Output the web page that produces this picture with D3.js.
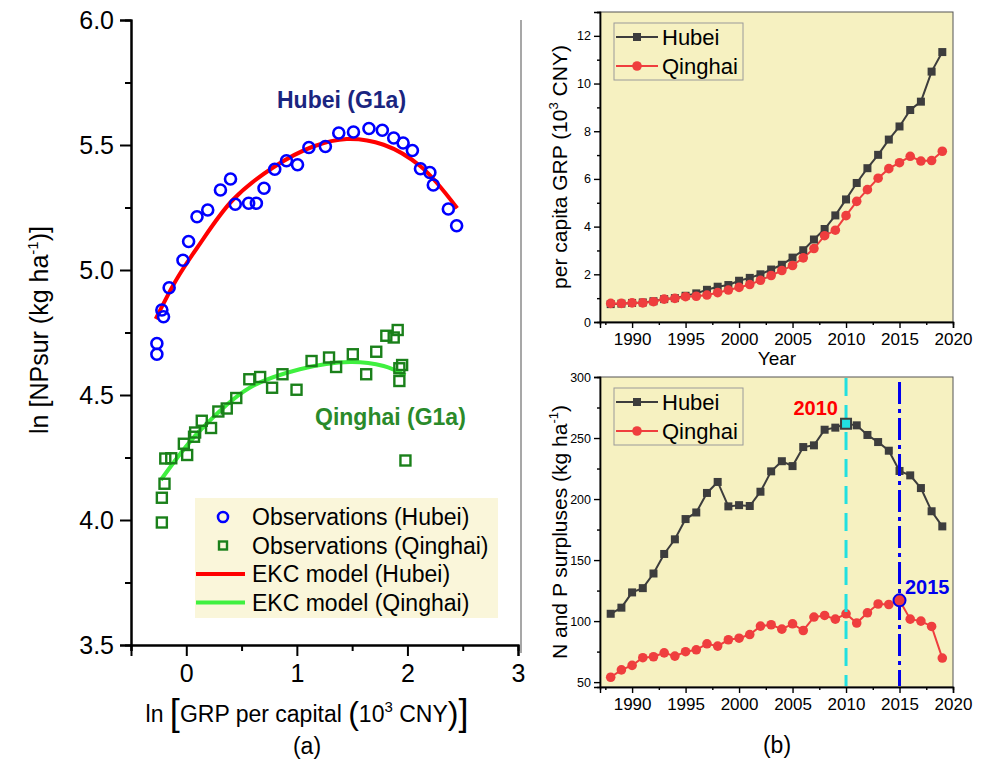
<!DOCTYPE html>
<html>
<head>
<meta charset="utf-8">
<script src="https://cdn.jsdelivr.net/npm/d3@7"></script>
<style>
  body { margin: 0; background: #fff; }
  svg { font-family: "Liberation Sans", Arial, sans-serif; }
</style>
</head>
<body>
<svg width="986" height="759"></svg>
<script>
// ---- data: panel (a), ln values ----
const obsHubeiX = [-0.266,-0.266,-0.221,-0.206,-0.155,-0.030,0.021,0.097,0.194,0.309,0.400,0.443,0.564,0.634,0.703,0.800,0.906,1.006,1.109,1.258,1.379,1.512,1.652,1.773,1.876,1.961,2.045,2.118,2.203,2.234,2.370,2.445]
const obsHubeiY = [4.706,4.663,4.840,4.813,4.929,5.039,5.114,5.213,5.240,5.320,5.364,5.263,5.267,5.267,5.327,5.403,5.437,5.421,5.490,5.494,5.548,5.552,5.566,5.559,5.528,5.508,5.478,5.405,5.390,5.340,5.244,5.177]
const obsQinghaiX = [-0.221,-0.221,-0.197,-0.190,-0.136,-0.022,0.008,0.070,0.080,0.140,0.224,0.290,0.366,0.452,0.570,0.668,0.776,0.870,0.997,1.133,1.291,1.355,1.506,1.627,1.718,1.809,1.876,1.912,1.952,1.927,1.927,1.982]
const obsQinghaiY = [3.990,4.089,4.145,4.246,4.247,4.305,4.260,4.333,4.350,4.397,4.368,4.434,4.446,4.488,4.563,4.572,4.529,4.583,4.521,4.636,4.650,4.612,4.663,4.583,4.673,4.737,4.730,4.760,4.620,4.607,4.556,4.238]
const ekcHubeiX = [-0.276,-0.094,0.1,0.42,0.785,1.148,1.452,1.785,2.118,2.45]
const ekcHubeiY = [4.804,4.958,5.09,5.28,5.41,5.494,5.524,5.501,5.415,5.247]
const ekcQinghaiX = [-0.23,0.118,0.573,1.027,1.482,1.785,1.982]
const ekcQinghaiY = [4.16,4.355,4.529,4.603,4.632,4.616,4.579]

// ---- data: panel (b) ----
const years = [1988,1989,1990,1991,1992,1993,1994,1995,1996,1997,1998,1999,2000,2001,2002,2003,2004,2005,2006,2007,2008,2009,2010,2011,2012,2013,2014,2015,2016,2017,2018,2019]
const grpHubei = [0.75,0.77,0.80,0.82,0.87,0.96,1.00,1.10,1.20,1.35,1.48,1.55,1.73,1.85,2.00,2.20,2.40,2.70,3.01,3.46,3.90,4.47,5.14,5.83,6.45,7.01,7.65,8.20,8.89,9.24,10.50,11.32]
const grpQinghai = [0.78,0.78,0.80,0.80,0.85,0.96,0.99,1.06,1.08,1.13,1.23,1.34,1.45,1.57,1.75,1.95,2.16,2.37,2.69,3.08,3.62,3.85,4.46,5.06,5.55,6.03,6.43,6.68,6.95,6.75,6.77,7.16]
const surHubei = [106,111,123.5,127,139,155,167,183.6,189,205,214,194,195,194.3,206,222.7,231,227,242.6,244,256.8,258.5,261.7,260.4,252.5,246.7,239.6,223,219.4,209,190,177.6]
const surQinghai = [54,60,63.7,70,70.8,74,71.3,74.9,76.5,81.4,79.5,84.7,86,89,95.9,97,93.4,97.8,92.3,103.3,104.6,101.6,106,98.4,106.8,114,113.6,117,101.6,100,95.6,69.7]
const markYears = [2010, 2015]

const svg = d3.select("svg")
svg.append("rect").attr("width", 986).attr("height", 759).attr("fill", "#fff")

const BG = "#f6f1c1"
const HUBEI = "#3d3d3d"
const QINGHAI = "#ef3e3e"

function styleAxis(sel, fs, sw) {
  sel.select(".domain").attr("stroke", "#000").attr("stroke-width", sw)
  sel.selectAll(".tick line").attr("stroke", "#000").attr("stroke-width", sw)
  sel.selectAll(".tick text").attr("font-size", fs).attr("fill", "#000")
    .attr("font-family", "Liberation Sans, Arial, sans-serif")
}

// ================= panel (a) =================
const xa = d3.scaleLinear().domain([-0.5, 3]).range([131, 518])
const ya = d3.scaleLinear().domain([3.5, 6.0]).range([645, 20])
const ga = svg.append("g")

// minor ticks
ga.append("g").attr("transform", "translate(0,645)")
  .call(d3.axisBottom(xa).tickValues([-0.5, 0.5, 1.5, 2.5]).tickSize(6).tickFormat(""))
  .call(s => styleAxis(s, 0, 2))
ga.append("g").attr("transform", "translate(131,0)")
  .call(d3.axisLeft(ya).tickValues([3.75, 4.25, 4.75, 5.25, 5.75]).tickSize(6).tickFormat(""))
  .call(s => styleAxis(s, 0, 2))
ga.append("g").attr("transform", "translate(0,645)")
  .call(d3.axisBottom(xa).tickValues([0, 1, 2, 3]).tickSize(11).tickPadding(8).tickFormat(d3.format("d")))
  .call(s => styleAxis(s, 25, 2))
ga.append("g").attr("transform", "translate(131,0)")
  .call(d3.axisLeft(ya).tickValues([3.5, 4, 4.5, 5, 5.5, 6]).tickSize(11).tickPadding(6).tickFormat(d3.format(".1f")))
  .call(s => styleAxis(s, 25, 2))

const lineA = d3.line().x(d => xa(d[0])).y(d => ya(d[1])).curve(d3.curveCatmullRom)
ga.append("path").datum(ekcHubeiX.map((x, i) => [x, ekcHubeiY[i]]))
  .attr("d", lineA).attr("fill", "none").attr("stroke", "#ff0000").attr("stroke-width", 4)
ga.append("path").datum(ekcQinghaiX.map((x, i) => [x, ekcQinghaiY[i]]))
  .attr("d", lineA).attr("fill", "none").attr("stroke", "#3ff03f").attr("stroke-width", 4)

ga.selectAll("circle.obs").data(obsHubeiX.map((x, i) => [x, obsHubeiY[i]])).join("circle")
  .attr("class", "obs").attr("cx", d => xa(d[0])).attr("cy", d => ya(d[1])).attr("r", 5.5)
  .attr("fill", "none").attr("stroke", "#0000ff").attr("stroke-width", 2.6)
ga.selectAll("rect.obs").data(obsQinghaiX.map((x, i) => [x, obsQinghaiY[i]])).join("rect")
  .attr("class", "obs").attr("x", d => xa(d[0]) - 5).attr("y", d => ya(d[1]) - 5)
  .attr("width", 10).attr("height", 10)
  .attr("fill", "none").attr("stroke", "#1a801a").attr("stroke-width", 2.4)

ga.append("text").text("Hubei (G1a)").attr("x", 277).attr("y", 108)
  .attr("font-size", 23).attr("font-weight", "bold").attr("fill", "#1a2580")
ga.append("text").text("Qinghai (G1a)").attr("x", 315).attr("y", 425)
  .attr("font-size", 23).attr("font-weight", "bold").attr("fill", "#2a8a2a")

// legend (a)
const lga = ga.append("g")
lga.append("rect").attr("x", 195).attr("y", 498).attr("width", 303).attr("height", 120).attr("fill", "#faf6da")
const legA = [
  {t: "Observations (Hubei)", k: "c"},
  {t: "Observations (Qinghai)", k: "s"},
  {t: "EKC model (Hubei)", k: "l", c: "#ff0000"},
  {t: "EKC model (Qinghai)", k: "l", c: "#3ff03f"}
]
legA.forEach((d, i) => {
  const yy = 517 + i * 28.5
  if (d.k === "c") lga.append("circle").attr("cx", 223).attr("cy", yy).attr("r", 5)
    .attr("fill", "none").attr("stroke", "#0000ff").attr("stroke-width", 2.6)
  if (d.k === "s") lga.append("rect").attr("x", 219).attr("y", yy - 4).attr("width", 8).attr("height", 8)
    .attr("fill", "none").attr("stroke", "#1a801a").attr("stroke-width", 2.4)
  if (d.k === "l") lga.append("line").attr("x1", 196).attr("x2", 245).attr("y1", yy).attr("y2", yy)
    .attr("stroke", d.c).attr("stroke-width", 4)
  lga.append("text").text(d.t).attr("x", 252).attr("y", yy + 8).attr("font-size", 23).attr("fill", "#000")
})

// axis titles (a)
const yt = ga.append("text").attr("transform", "translate(48,330) rotate(-90)")
  .attr("text-anchor", "middle").attr("font-size", 25)
yt.append("tspan").text("ln [NPsur (kg ha")
yt.append("tspan").text("-1").attr("font-size", 15).attr("dy", -10)
yt.append("tspan").text(")]").attr("dy", 10)

const xt = ga.append("text").attr("x", 307).attr("y", 722).attr("text-anchor", "middle").attr("font-size", 23)
xt.append("tspan").text("ln ")
xt.append("tspan").text("[").attr("font-size", 36).attr("dy", 3)
xt.append("tspan").text("GRP per capital ").attr("dy", -3)
xt.append("tspan").text("(").attr("font-size", 32).attr("dy", 2)
xt.append("tspan").text("10").attr("dy", -2)
xt.append("tspan").text("3").attr("font-size", 15).attr("dy", -10)
xt.append("tspan").text(" CNY").attr("dy", 10)
xt.append("tspan").text(")").attr("font-size", 32).attr("dy", 2)
xt.append("tspan").text("]").attr("font-size", 36).attr("dy", 1)
ga.append("text").text("(a)").attr("x", 307).attr("y", 754).attr("text-anchor", "middle").attr("font-size", 23)

// separator
svg.append("line").attr("x1", 521).attr("x2", 521).attr("y1", 20).attr("y2", 653)
  .attr("stroke", "#8a8a8a").attr("stroke-width", 1.5)

// ================= panel (b) =================
const xb = d3.scaleLinear().domain([1987, 2020]).range([600, 953])

function panel(y0, y1, yDomain, major, minor, hub, qin, label) {
  const y = d3.scaleLinear().domain(yDomain).range([y1, y0])
  const g = svg.append("g")
  g.append("rect").attr("x", 600).attr("y", y0).attr("width", 353).attr("height", y1 - y0)
    .attr("fill", BG).attr("stroke", "#555").attr("stroke-width", 1)
  g.append("g").attr("transform", `translate(0,${y1})`)
    .call(d3.axisBottom(xb).tickValues([1987.5, 1992.5, 1997.5, 2002.5, 2007.5, 2012.5, 2017.5]).tickSize(3).tickFormat(""))
    .call(s => styleAxis(s, 0, 1.4))
  g.append("g").attr("transform", `translate(0,${y1})`)
    .call(d3.axisBottom(xb).tickValues([1990, 1995, 2000, 2005, 2010, 2015, 2020]).tickSize(6).tickPadding(5).tickFormat(d3.format("d")))
    .call(s => styleAxis(s, 17, 1.4))
  g.append("g").attr("transform", "translate(600,0)")
    .call(d3.axisLeft(y).tickValues(minor).tickSize(3).tickFormat(""))
    .call(s => styleAxis(s, 0, 1.4))
  g.append("g").attr("transform", "translate(600,0)")
    .call(d3.axisLeft(y).tickValues(major).tickSize(6).tickPadding(3))
    .call(s => styleAxis(s, 12.5, 1.4))

  const line = d3.line().x((d, i) => xb(years[i])).y(d => y(d))
  g.append("path").datum(hub).attr("d", line).attr("fill", "none").attr("stroke", HUBEI).attr("stroke-width", 2)
  g.append("path").datum(qin).attr("d", line).attr("fill", "none").attr("stroke", QINGHAI).attr("stroke-width", 2)
  g.selectAll("rect.h").data(hub).join("rect").attr("class", "h")
    .attr("x", (d, i) => xb(years[i]) - 4).attr("y", d => y(d) - 4).attr("width", 8).attr("height", 8)
    .attr("fill", HUBEI)
  g.selectAll("circle.q").data(qin).join("circle").attr("class", "q")
    .attr("cx", (d, i) => xb(years[i])).attr("cy", d => y(d)).attr("r", 4.8).attr("fill", QINGHAI)

  // legend
  const lg = g.append("g")
  lg.append("rect").attr("x", 614).attr("y", y0 + 11).attr("width", 129).attr("height", 57)
    .attr("fill", "none").attr("stroke", "#9a9a9a").attr("stroke-width", 1)
  ;[["Hubei", HUBEI, "s"], ["Qinghai", QINGHAI, "c"]].forEach((d, i) => {
    const yy = y0 + 25 + i * 29
    lg.append("line").attr("x1", 616).attr("x2", 658).attr("y1", yy).attr("y2", yy).attr("stroke", d[1]).attr("stroke-width", 2)
    if (d[2] === "s") lg.append("rect").attr("x", 633).attr("y", yy - 4).attr("width", 8).attr("height", 8).attr("fill", d[1])
    else lg.append("circle").attr("cx", 637).attr("cy", yy).attr("r", 4.8).attr("fill", d[1])
    lg.append("text").text(d[0]).attr("x", 662).attr("y", yy + 8).attr("font-size", 22).attr("fill", "#000")
  })

  // y title
  const t = g.append("text").attr("transform", `translate(567,${(y0 + y1) / 2}) rotate(-90)`)
    .attr("text-anchor", "middle").attr("font-size", label.size)
  t.append("tspan").text(label.a)
  t.append("tspan").text(label.sup).attr("font-size", 13).attr("dy", -9)
  t.append("tspan").text(label.b).attr("dy", 9)
  return {g, y}
}

const gdpPanel = panel(12, 322, [0, 13], [0, 2, 4, 6, 8, 10, 12], [1, 3, 5, 7, 9, 11, 13], grpHubei, grpQinghai,
  {a: "per capita GRP (10", sup: "3", b: " CNY)", size: 21})
svg.append("text").text("Year").attr("x", 777).attr("y", 365).attr("text-anchor", "middle").attr("font-size", 19)

const surPanel = panel(377, 687, [46, 300], [50, 100, 150, 200, 250, 300], [75, 125, 175, 225, 275], surHubei, surQinghai,
  {a: "N and P surpluses (kg ha", sup: "-1", b: ")", size: 21})

// marker lines
const y2 = surPanel.y
const gb = surPanel.g
gb.append("line").attr("x1", xb(markYears[0])).attr("x2", xb(markYears[0])).attr("y1", 378).attr("y2", 686)
  .attr("stroke", "#22e0e0").attr("stroke-width", 3).attr("stroke-dasharray", "18,9")
gb.append("line").attr("x1", xb(markYears[1])).attr("x2", xb(markYears[1])).attr("y1", 382).attr("y2", 686)
  .attr("stroke", "#0000ee").attr("stroke-width", 3).attr("stroke-dasharray", "22,5,4,5")
const i2010 = years.indexOf(markYears[0])
const i2015 = years.indexOf(markYears[1])
gb.append("rect").attr("x", xb(markYears[0]) - 5).attr("y", y2(surHubei[i2010]) - 5).attr("width", 10).attr("height", 10)
  .attr("fill", "#22e0e0").attr("stroke", HUBEI).attr("stroke-width", 2)
gb.append("circle").attr("cx", xb(markYears[1])).attr("cy", y2(surQinghai[i2015])).attr("r", 6)
  .attr("fill", QINGHAI).attr("stroke", "#0000ee").attr("stroke-width", 2)
gb.append("text").text("2010").attr("x", 838).attr("y", 415).attr("text-anchor", "end")
  .attr("font-size", 20).attr("font-weight", "bold").attr("fill", "#ff0000")
gb.append("text").text("2015").attr("x", 905).attr("y", 594)
  .attr("font-size", 20).attr("font-weight", "bold").attr("fill", "#0000ee")

svg.append("text").text("(b)").attr("x", 777).attr("y", 753).attr("text-anchor", "middle").attr("font-size", 23)
</script>
</body>
</html>
